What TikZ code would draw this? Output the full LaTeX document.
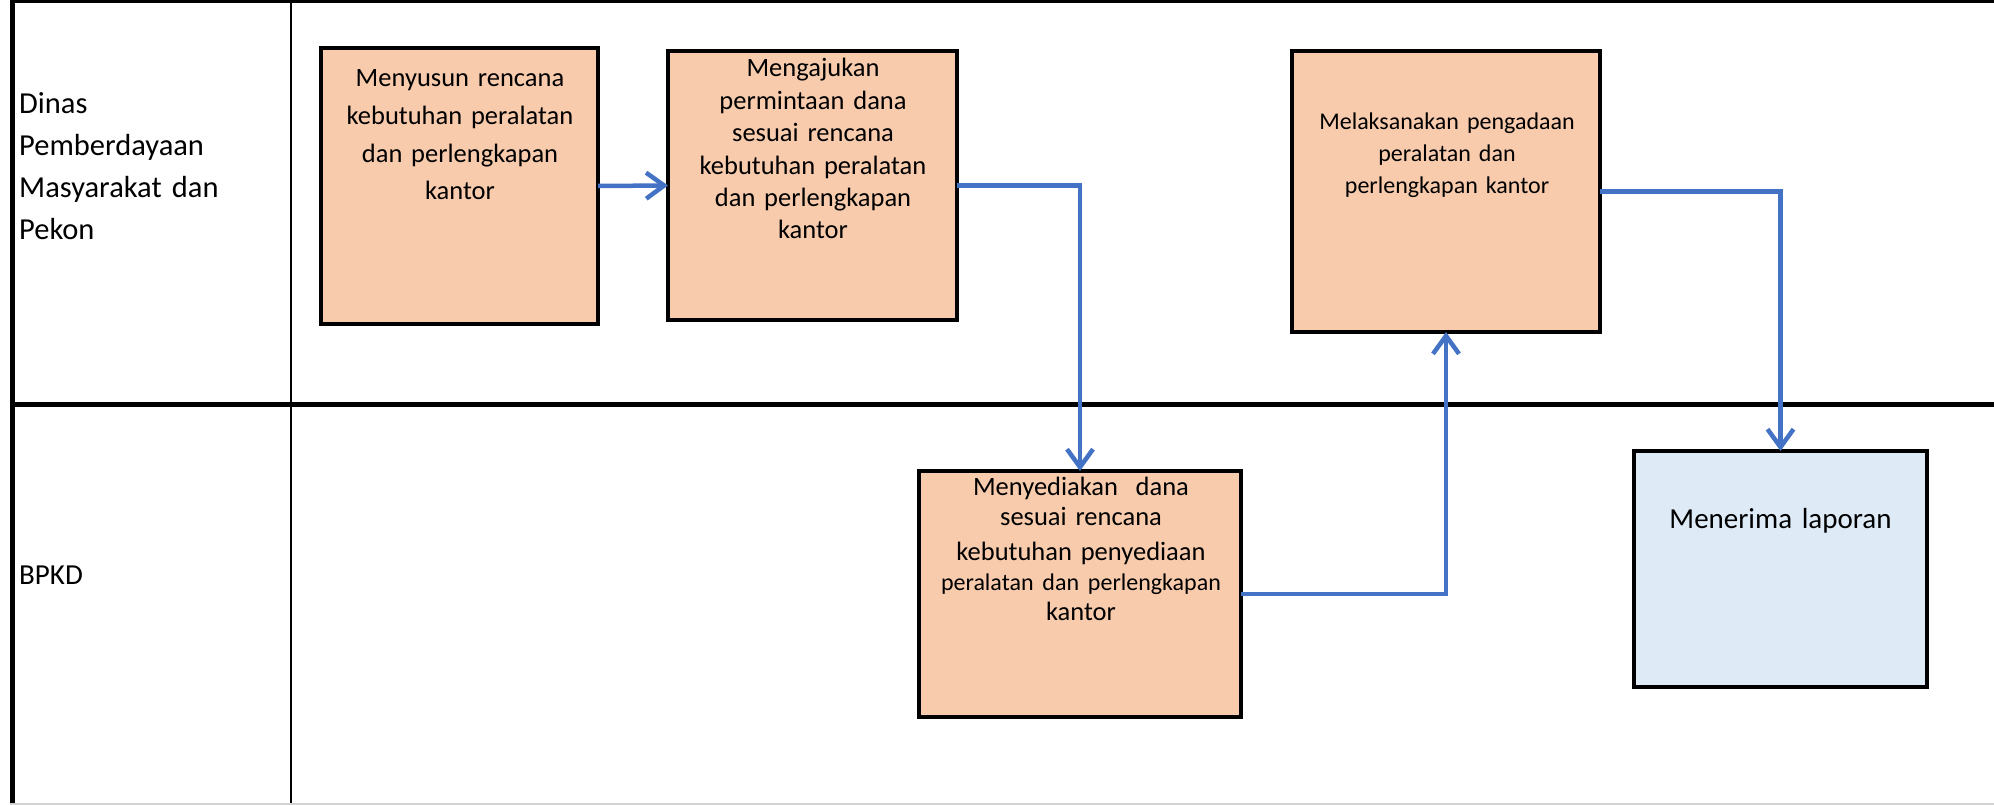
\documentclass[tikz,border=0pt]{standalone}
\usepackage{fontspec}
\setmainfont{Carlito}
\usetikzlibrary{arrows.meta}
\definecolor{peach}{HTML}{F8CBAD}
\definecolor{lblue}{HTML}{DEEBF7}
\definecolor{flow}{HTML}{4472C4}
\begin{document}
\begin{tikzpicture}[x=1pt,y=-1pt,
  pbox/.style={rectangle, draw=black, line width=3.5pt, fill=peach, inner sep=0pt, outer sep=0pt},
  bbox/.style={pbox, fill=lblue},
  boxtext/.style={align=center, inner sep=0pt, anchor=base},
  flowarrow/.style={draw=flow, line width=4.5pt, -{Straight Barb[length=18pt,width=26pt]}},
  lanetext/.style={anchor=base west, inner sep=0pt, align=left}]

\useasboundingbox (0,0) rectangle (1994,805);

% frame of the swimlanes
\draw[line width=5pt] (12.5,0) -- (12.5,805);
\draw[line width=4pt] (10,1.5) -- (1994,1.5);
\draw[line width=2.5pt] (291,0) -- (291,805);
\draw[line width=5pt] (10,404) -- (1994,404);
\draw[gray!35, line width=2pt] (10,804) -- (1994,804);

% lane labels
\node[lanetext, text width=260pt, font=\fontsize{30.5}{42}\selectfont] (l1) at (19,114)
  {Dinas\\Pemberdayaan\\Masyarakat dan\\Pekon};
\node[lanetext, font=\fontsize{29}{35}\selectfont] (l2) at (19,584) {BPKD};

% boxes
\node[pbox, minimum width=277pt, minimum height=276pt] (b1) at (459.5,186) {};
\node[pbox, minimum width=289pt, minimum height=269pt] (b2) at (812.5,185.5) {};
\node[pbox, minimum width=308pt, minimum height=281pt] (b4) at (1446,191.5) {};
\node[pbox, minimum width=322pt, minimum height=246pt] (b3) at (1080,594) {};
\node[bbox, minimum width=293pt, minimum height=236pt] (b5) at (1780.5,569) {};

% box texts
\node[boxtext, text width=277pt, font=\fontsize{26.5}{37.6}\selectfont] (t1) at (460,87)
  {Menyusun rencana\\kebutuhan peralatan\\dan perlengkapan\\kantor};
\node[boxtext, text width=289pt, font=\fontsize{26.5}{32.4}\selectfont] (t2) at (813,77)
  {Mengajukan\\permintaan dana\\sesuai rencana\\kebutuhan peralatan\\dan perlengkapan\\kantor};
\node[boxtext, text width=308pt, font=\fontsize{24}{32}\selectfont] (t4) at (1447,130)
  {Melaksanakan pengadaan\\peralatan dan\\perlengkapan kantor};
\node[boxtext, text width=322pt, font=\fontsize{26.5}{30}\selectfont] (t3) at (1081,495)
  {Menyediakan\ \ dana\\sesuai rencana\\[5pt]kebutuhan penyediaan\\{\fontsize{24}{30}\selectfont peralatan dan perlengkapan}\\kantor};
\node[boxtext, text width=293pt, font=\fontsize{29}{35}\selectfont] (t5) at (1780.5,528)
  {Menerima laporan};

% connectors
\draw[flowarrow] (b1.east) -- (b2.west);
\draw[flowarrow] (b2.east) -| (b3.north);
\draw[flowarrow] (b3.east) -| (b4.south);
\draw[flowarrow] (b4.east) -| (b5.north);
\end{tikzpicture}
\end{document}
